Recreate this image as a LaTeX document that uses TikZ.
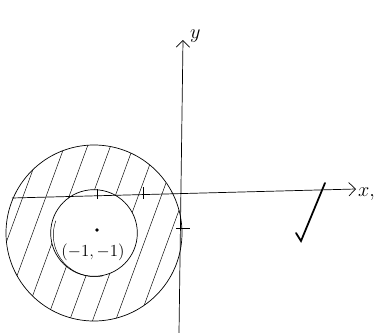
\documentclass[tikz,border=0pt]{standalone}
\usepackage{amsmath}
\usetikzlibrary{arrows.meta}
\begin{document}
\begin{tikzpicture}[x=0.03cm, y=-0.03cm, every node/.style={font=\large}]
  \useasboundingbox (0,0) rectangle (387,333);
  % axes
  \coordinate (xl) at (12,198);
  \coordinate (xr) at (356,189);
  \coordinate (yb) at (179,333);
  \coordinate (yt) at (183,40);
  \draw[semithick, -{Straight Barb[length=2mm]}] (xl) -- (xr);
  \draw[semithick, -{Straight Barb[length=2mm]}] (yb) -- (yt);
  \node[right, font=\LARGE] (ylab) at (186,36) {$y$};
  \node[right, font=\LARGE] (xlab) at (354,194) {$x,$};
  % tick marks
  \draw (97,189) -- (97,199);
  \draw (143,187) -- (143,199);
  \draw (176,228) -- (190,228);
  % shaded ring round (-1,-1)
  \coordinate (c) at (94,233);
  \begin{scope}[even odd rule]
    \clip (c) circle[radius=2.64cm] (c) circle[radius=1.3cm];
    \foreach \i in {-50,-27,...,250}
      \draw (\i,333) -- ++(110,-300);
  \end{scope}
  \draw[semithick] (c) circle[radius=2.64cm];
  \draw[semithick] (c) circle[radius=1.3cm];
  \draw ([shift={(1,2)}]c) ++(160:1.25cm) arc[start angle=160, end angle=280, radius=1.25cm];
  \fill (97,230) circle[radius=1.5pt];
  \node[font=\Large] (clab) at (93,252) {$(-1,-1)$};
  % tick
  \draw[line width=1.5pt, line cap=round] (296,233) -- (301,241) -- (325,183);
\end{tikzpicture}
\end{document}
